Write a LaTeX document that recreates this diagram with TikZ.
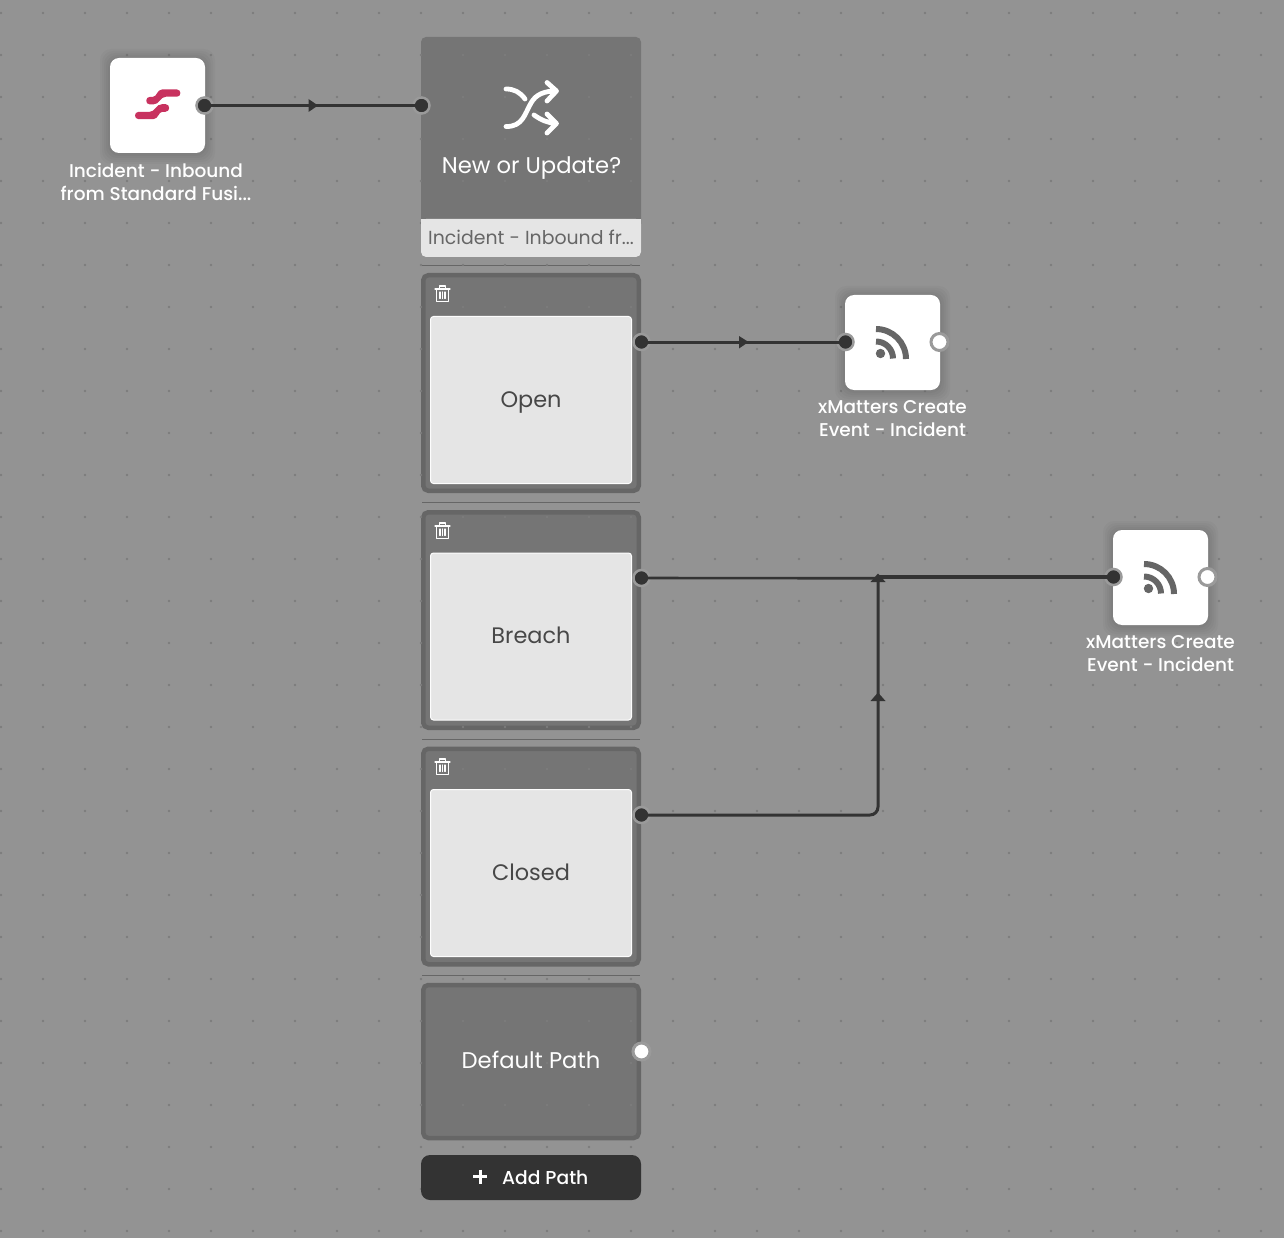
\documentclass[tikz,border=0pt]{standalone}
\usepackage{fontspec}
\setmainfont{Poppins}
\newfontfamily\lblfont{Poppins Medium}
\usetikzlibrary{calc}
\definecolor{bgc}{HTML}{939393}
\definecolor{dotc}{HTML}{7C7C7C}
\definecolor{panelc}{HTML}{757575}
\definecolor{panelb}{HTML}{666666}
\definecolor{lightc}{HTML}{E5E5E5}
\definecolor{linec}{HTML}{333333}
\definecolor{ringc}{HTML}{9A9A9A}
\definecolor{logoc}{HTML}{C8325F}
\definecolor{iconc}{HTML}{666666}
\definecolor{sepc}{HTML}{666666}
\tikzset{
  panelbox/.style={draw=panelb,line width=4.5pt,fill=panelc,rounded corners=5pt,minimum width=215.5pt,inner sep=0pt,outer sep=0pt},
  innerbox/.style={draw=white!92!lightc,line width=1pt,fill=lightc,rounded corners=3pt,minimum width=201pt,minimum height=167pt,inner sep=0pt,text=linec!90!white,font=\fontsize{22.4}{26}\selectfont,text height=15pt,text depth=0.5pt},
  whitebox/.style={fill=white,rounded corners=9pt,minimum width=95pt,minimum height=95pt,inner sep=0pt,outer sep=0pt},
  nodelabel/.style={text=white,align=center,inner sep=0pt,font=\lblfont\fontsize{18.5}{23.5}\selectfont},
  portdark/.style={circle,fill=linec,draw=ringc,line width=2.5pt,minimum size=16pt,inner sep=0pt,outer sep=0pt},
  portlight/.style={circle,fill=white,draw=ringc,line width=3pt,minimum size=17pt,inner sep=0pt,outer sep=0pt},
  wire/.style={draw=linec,line width=3pt},
  midtip/.style={fill=linec},
  sepline/.style={draw=sepc,line width=1pt},
  rssicon/.style={draw=iconc,line width=6pt},
  bigtext/.style={text=white,inner sep=0pt,font=\fontsize{22.7}{26}\selectfont,text height=15pt,text depth=2pt},
}
\newcommand{\softshadow}[1]{%
  \foreach \g in {10,8,6,4,2}{
    \fill[black,opacity=0.022,rounded corners=11pt] ($(#1.south west)+(-\g,\g+1)$) rectangle ($(#1.north east)+(\g,-\g+1)$);
  }}
\newcommand{\rssat}[2]{%
  \fill[iconc] (#1+4.5,#2+11.5) circle (4.7);
  \draw[rssicon] (#1,#2-13) arc[start angle=-90,end angle=0,radius=30];
  \draw[rssicon] (#1,#2-0.5) arc[start angle=-90,end angle=0,radius=17];
}
\newcommand{\trashat}[2]{%
  \draw[white,line width=1.2pt,line join=round,line cap=round]
    (#1-7.5,#2-4.5) -- (#1+7.5,#2-4.5)
    (#1-3,#2-4.5) -- (#1-3,#2-7.5) -- (#1+3,#2-7.5) -- (#1+3,#2-4.5)
    (#1-6,#2-4.5) -- (#1-6,#2+8) -- (#1+6,#2+8) -- (#1+6,#2-4.5)
    (#1-2.5,#2-1.5) -- (#1-2.5,#2+5) (#1,#2-1.5) -- (#1,#2+5) (#1+2.5,#2-1.5) -- (#1+2.5,#2+5);
}
\begin{document}
\begin{tikzpicture}[x=1pt,y=-1pt]
\useasboundingbox (0,0) rectangle (1284,1238);
\fill[bgc] (0,0) rectangle (1284,1238);

% panels
\node[draw=none,fill=panelc,rounded corners=5pt,minimum width=220pt,minimum height=220pt,inner sep=0pt,outer sep=0pt] (decide) at (531,147) {};
\draw[sepline] (422,265.5) -- (640,265.5) (422,502.5) -- (640,502.5) (422,739.5) -- (640,739.5) (422,975.5) -- (640,975.5);
\node[panelbox,minimum height=215.5pt] (popen) at (531,383) {};
\node[panelbox,minimum height=215.5pt] (pbreach) at (531,620) {};
\node[panelbox,minimum height=215.5pt] (pclosed) at (531,856.5) {};
\node[panelbox,minimum height=153pt] (pdefault) at (531,1061.5) {};

% dot grid, seen through the dark panels
\foreach \i in {0,...,30}{\foreach \j in {0,...,29}{
  \fill[dotc] (1+42*\i,13+42*\j) circle (1.3);
}}
\fill[lightc,rounded corners=5pt] (421,219) |- (641,257) -- (641,219) -- cycle;
\fill[lightc] (421,219) rectangle (641,228);

% white blocks
\coordinate (a) at (157.5,105.5);
\node[whitebox,fill=none] (src0) at (a) {};
\softshadow{src0}
\node[whitebox] (src) at (a) {};
\node[whitebox,fill=none] (xm0) at (892.5,342.5) {};
\softshadow{xm0}
\node[whitebox] (xma) at (892.5,342.5) {};
\node[whitebox,fill=none] (xn0) at (1160.5,577.5) {};
\softshadow{xn0}
\node[whitebox] (xmb) at (1160.5,577.5) {};

% inner cards
\node[innerbox] (iopen) at (531,400) {Open};
\node[innerbox] (ibreach) at (531,636.5) {Breach};
\node[innerbox] (iclosed) at (531,873) {Closed};

% text
\node[nodelabel] (lsrc) at (156,182) {Incident - Inbound\\from Standard Fusi...};
\node[nodelabel] (lxa) at (892.5,418.5) {xMatters Create\\Event - Incident};
\node[nodelabel] (lxb) at (1160.5,653.5) {xMatters Create\\Event - Incident};
\node[bigtext] (tdec) at (531.5,167) {New or Update?};
\node[text=iconc,inner sep=0pt,font=\fontsize{18.9}{22}\selectfont] (tfoot) at (531,237.5) {Incident - Inbound fr...};
\node[bigtext] (tdef) at (531,1062) {Default Path};

% add path button
\node[fill=linec,rounded corners=9pt,minimum width=220pt,minimum height=45pt,inner sep=0pt] (addp) at (531,1177.5) {};
\node[text=white,inner sep=0pt,font=\lblfont\fontsize{18.7}{22}\selectfont,anchor=west] (tadd) at (502,1177.5) {Add Path};
\draw[white,line width=3pt] (473,1176.5) -- (487,1176.5) (480,1169.5) -- (480,1183.5);

% icons
\fill[logoc] (162,89.5) -- (177,89.5) .. controls (181.5,89.5) and (181.5,96.7) .. (177,96.7) -- (166,96.7) .. controls (160,96.7) and (160,104.5) .. (153,104.5) -- (150,104.5) .. controls (145,104.5) and (145,96.8) .. (150,96.8) -- (153,96.8) .. controls (157,96.8) and (157,89.5) .. (162,89.5) -- cycle;
\fill[logoc] (153.4,119.1) -- (138.4,119.1) .. controls (133.9,119.1) and (133.9,111.9) .. (138.4,111.9) -- (149.4,111.9) .. controls (155.4,111.9) and (155.4,104.1) .. (162.4,104.1) -- (165.4,104.1) .. controls (170.4,104.1) and (170.4,111.8) .. (165.4,111.8) -- (162.4,111.8) .. controls (158.4,111.8) and (158.4,119.1) .. (153.4,119.1) -- cycle;

\draw[white,line width=4.8pt,line cap=round,line join=round]
  (506,89) .. controls (514,89) and (520,92) .. (525,99)
  (506,126.5) .. controls (523,127) and (525,113) .. (531,103) .. controls (536,94) and (545,91) .. (556,91)
  (547,82.5) -- (556.5,91) -- (547,101)
  (534,115) .. controls (541,120) and (548,123) .. (556,123.5)
  (547,114) -- (556.5,123.5) -- (547,133);

\rssat{876}{342}
\rssat{1144}{577}

\trashat{442.5}{293.5}
\trashat{442.5}{530.5}
\trashat{442.5}{766.5}

% ports
\node[portdark] (p1) at (204.5,105.5) {};
\node[portdark] (p2) at (421.5,105.5) {};
\node[portdark] (p3) at (641.5,342) {};
\node[portdark] (p4) at (845.5,342) {};
\node[portlight] (p5) at (939.5,342) {};
\node[portdark] (p6) at (641.5,578) {};
\node[portdark] (p7) at (1113.5,577) {};
\node[portlight] (p8) at (1207.5,577) {};
\node[portdark] (p9) at (641.5,815) {};
\node[portlight] (p10) at (641.5,1051.5) {};
\coordinate (mergept) at (878,577);

% connectors
\draw[wire] (p1.center) -- (p2.center);
\draw[wire] (p3.center) -- (p4.center);
\draw[wire,line width=2.6pt] (p6.center) -- (880,578.3);
\draw[wire,line width=3.4pt] (mergept) -- (p7.center);
\draw[wire,rounded corners=8pt] (p9.center) -| (mergept);
\fill[midtip] (308.5,99) -- (318,105.5) -- (308.5,112) -- cycle;
\fill[midtip] (739,336) -- (748.5,342) -- (739,348.5) -- cycle;
\fill[midtip] (870.5,582) -- (878,573.5) -- (885.5,582) -- cycle;
\fill[midtip] (870.5,701) -- (878,692.5) -- (885.5,701) -- cycle;
\foreach \n in {p1,p2,p3,p4,p6,p7,p9}{\fill[linec] (\n.center) circle (6.2);}
\end{tikzpicture}
\end{document}
